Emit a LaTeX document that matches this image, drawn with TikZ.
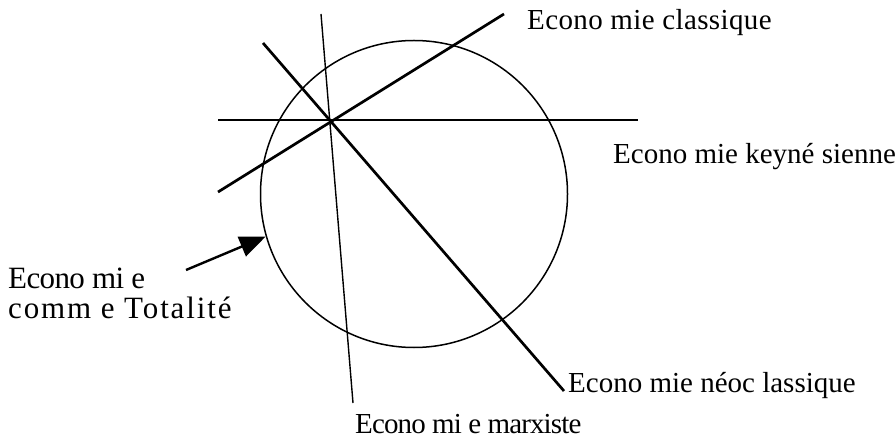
\documentclass[tikz,border=0pt]{standalone}
\usepackage{fontspec}
\setmainfont{Liberation Serif}
\usetikzlibrary{arrows.meta}
\newcommand{\lsp}[1]{\addfontfeature{LetterSpace=#1}}
\begin{document}
\begin{tikzpicture}[x=1pt,y=-1pt,
  thickline/.style={line width=2.7pt},
  thinline/.style={line width=1.4pt},
  lbl/.style={anchor=base west,inner sep=0pt,font=\fontsize{29}{33}\selectfont},
  biglbl/.style={anchor=base west,inner sep=0pt,font=\fontsize{31}{35}\selectfont},
  pointer/.style={line width=2.4pt,-{Triangle[length=26pt,width=21pt]}}]
\useasboundingbox (0,0) rectangle (896,446);
% circle
\node[draw,circle,line width=1.5pt,minimum size=307pt,inner sep=0pt] (circ) at (414,194) {};
% line end points
\coordinate (h1) at (218,120);
\coordinate (h2) at (638,120);
\coordinate (c1) at (218,192);
\coordinate (c2) at (504,14);
\coordinate (n1) at (263,43);
\coordinate (n2) at (564,391);
\coordinate (m1) at (321,14);
\coordinate (m2) at (353,403);
\coordinate (tail) at (186,270);
% lines
\draw[thickline] (h1) -- (h2);
\draw[thickline] (c1) -- (c2);
\draw[thickline] (n1) -- (n2);
\draw[thinline] (m1) -- (m2);
\draw[pointer] (tail) -- (circ.196.6);
% labels
\node[lbl] (lclass) at (527,30) {\lsp{1.3}Econo mie classique};
\node[lbl] (lkey) at (613,164) {Econo mie keyné sienne};
\node[lbl] (lneo) at (568,392) {Econo mie néoc lassique};
\node[lbl] (lmarx) at (355,433) {\lsp{-3}Econo mi e marxiste};
\node[biglbl] (ltot1) at (8,288) {\lsp{-2}Econo mi e};
\node[biglbl] (ltot2) at (8,318) {\lsp{6}comm e Totalité};
\end{tikzpicture}
\end{document}
